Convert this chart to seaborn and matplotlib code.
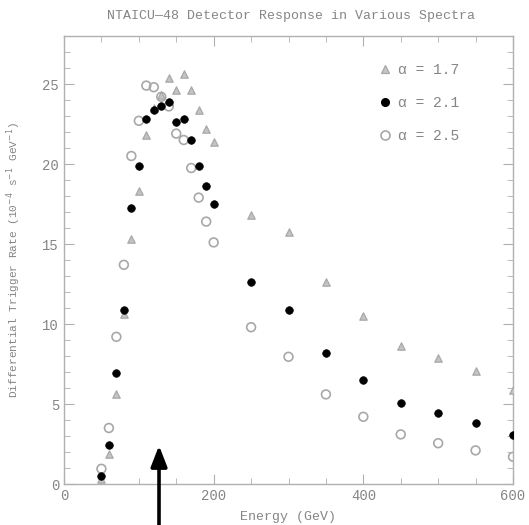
import matplotlib
matplotlib.use("Agg")
import matplotlib.pyplot as plt
from matplotlib.lines import Line2D
from matplotlib.ticker import MultipleLocator
import numpy as np
import pandas as pd
import seaborn as sns

# Energy bins (GeV)
energy = [50, 60, 70, 80, 90, 100, 110, 120, 130, 140, 150, 160, 170, 180, 190, 200,
          250, 300, 350, 400, 450, 500, 550, 600]

# Differential trigger rate for three spectral indices
rate_a17 = [0.3, 1.9, 5.6, 10.6, 15.3, 18.3, 21.8, 23.5, 24.3, 25.4, 24.6, 25.6, 24.6, 23.4, 22.2, 21.4,
            16.8, 15.75, 12.6, 10.5, 8.6, 7.9, 7.05, 5.9]
rate_a21 = [0.5, 2.45, 6.95, 10.9, 17.25, 19.9, 22.8, 23.4, 23.6, 23.9, 22.6, 22.8, 21.5, 19.9, 18.6, 17.5,
            12.6, 10.9, 8.2, 6.5, 5.05, 4.45, 3.8, 3.05]
rate_a25 = [0.95, 3.5, 9.2, 13.7, 20.5, 22.7, 24.9, 24.8, 24.2, 23.6, 21.9, 21.5, 19.75, 17.9, 16.4, 15.1,
            9.8, 7.95, 5.6, 4.2, 3.1, 2.55, 2.1, 1.7]

labels = ["\u03b1 = 1.7", "\u03b1 = 2.1", "\u03b1 = 2.5"]
title = "NTAICU\u201448 Detector Response in Various Spectra"
xlabel = "Energy (GeV)"
ylabel = "Differential Trigger Rate (10$^{-4}$ s$^{-1}$ GeV$^{-1}$)"

df = pd.DataFrame({
    "energy": energy * 3,
    "rate": rate_a17 + rate_a21 + rate_a25,
    "spectrum": [labels[0]] * len(energy) + [labels[1]] * len(energy) + [labels[2]] * len(energy),
})

sns.set_style("ticks")
plt.rcParams["font.family"] = ["Liberation Mono", "DejaVu Sans Mono", "DejaVu Sans"]
plt.rcParams["mathtext.fontset"] = "dejavusans"

grey_text = "#858585"
grey_mark = "#a8a8a8"
tri_fill = "#c4c4c4"
frame_col = "#b0b0b0"

fig = plt.figure(figsize=(5.29, 5.25), dpi=100)
ax = fig.add_axes([64 / 529, 1 - 484 / 525, (513 - 64) / 529, (484 - 36) / 525])

sns.scatterplot(data=df[df.spectrum == labels[0]], x="energy", y="rate", ax=ax,
                marker="^", s=28, color=tri_fill, edgecolor=grey_mark, linewidth=0.9,
                legend=False, zorder=3)
sns.scatterplot(data=df[df.spectrum == labels[2]], x="energy", y="rate", ax=ax,
                marker="o", s=40, facecolor="none", edgecolor=grey_mark, linewidth=1.2,
                legend=False, zorder=4)
sns.scatterplot(data=df[df.spectrum == labels[1]], x="energy", y="rate", ax=ax,
                marker="o", s=30, color="black", edgecolor="black", linewidth=0.5,
                legend=False, zorder=5)

ax.set_xlim(0, 600)
ax.set_ylim(0, 28)
ax.xaxis.set_major_locator(MultipleLocator(200))
ax.xaxis.set_minor_locator(MultipleLocator(50))
ax.yaxis.set_major_locator(MultipleLocator(5))
ax.yaxis.set_minor_locator(MultipleLocator(1))
ax.tick_params(which="both", direction="in", top=True, right=True, colors=frame_col,
               labelcolor=grey_text, labelsize=10)
ax.tick_params(which="major", length=7, width=0.8)
ax.tick_params(which="minor", length=4, width=0.6)
for sp in ax.spines.values():
    sp.set_color(frame_col)
    sp.set_linewidth(1.0)

ax.set_xlabel(xlabel, color=grey_text, fontsize=9.5, labelpad=6)
ax.set_ylabel(ylabel, color=grey_text, fontsize=8, labelpad=14)
fig.text(291 / 529, 1 - 16 / 525, title, color=grey_text, fontsize=9.5,
         ha="center", va="center")

handles = [
    Line2D([], [], ls="none", marker="^", ms=5.5, mfc=tri_fill, mec=grey_mark, mew=0.9),
    Line2D([], [], ls="none", marker="o", ms=5.5, color="black"),
    Line2D([], [], ls="none", marker="o", ms=6.5, mfc="none", mec=grey_mark, mew=1.2),
]
ax.legend(handles, labels, loc="upper left", bbox_to_anchor=((372 - 64) / 449, 1 - (57 - 36) / 448),
          frameon=False, fontsize=10.5, labelcolor=grey_text, labelspacing=1.3,
          handletextpad=0.4, handlelength=1.0, borderaxespad=0)

# Marker arrow below the axis pointing up at the low-energy rise
ax.annotate("", xy=(127, 2.4), xycoords="data", xytext=(159, 0), textcoords="figure pixels",
            arrowprops=dict(arrowstyle="-|>,head_width=0.35,head_length=0.9", lw=2.6,
                            color="black", shrinkA=0, shrinkB=0, mutation_scale=14),
            annotation_clip=False, zorder=10)

fig.savefig("out.png", dpi=100)
